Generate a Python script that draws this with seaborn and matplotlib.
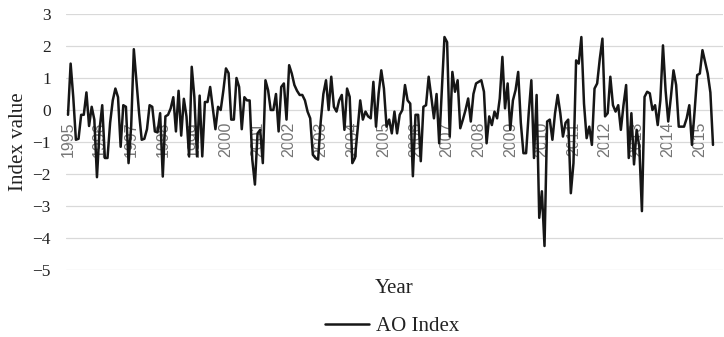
import numpy as np
import pandas as pd
import matplotlib
matplotlib.use("Agg")
import matplotlib.pyplot as plt
import seaborn as sns

# ---- data (monthly AO index, Jan 1995 - Jun 2015) ----
ao_1995 = [-0.15, 1.45, 0.4, -0.93, -0.9, -0.15, -0.15, 0.55, -0.5, 0.1, -0.3, -2.1]
ao_1996 = [-0.6, 0.15, -1.5, -1.5, -0.4, 0.3, 0.67, 0.4, -1.15, 0.15, 0.1, -1.66]
ao_1997 = [-0.5, 1.9, 0.9, -0.1, -0.93, -0.9, -0.6, 0.15, 0.1, -0.67, -0.7, -0.1]
ao_1998 = [-2.08, -0.2, -0.15, 0.05, 0.4, -0.67, 0.6, -0.8, 0.35, -0.2, -1.45, 1.35]
ao_1999 = [0.4, -1.45, 0.45, -1.45, 0.25, 0.25, 0.72, 0.05, -0.6, 0.1, 0.0, 0.6]
ao_2000 = [1.3, 1.15, -0.3, -0.3, 1.0, 0.72, -0.6, 0.4, 0.3, 0.3, -1.55, -2.33]
ao_2001 = [-0.73, -0.62, -1.66, 0.93, 0.62, 0.0, 0.0, 0.5, -0.67, 0.72, 0.83, -0.3]
ao_2002 = [1.4, 1.14, 0.78, 0.6, 0.47, 0.47, 0.3, -0.05, -0.26, -1.4, -1.5, -1.55]
ao_2003 = [-0.36, 0.5, 0.93, 0.0, 1.04, 0.1, -0.05, 0.3, 0.47, -0.62, 0.67, 0.41]
ao_2004 = [-1.66, -1.5, -0.62, 0.3, -0.3, -0.05, -0.2, -0.26, 0.88, -0.52, 0.52, 1.24]
ao_2005 = [0.67, -0.52, -0.3, -0.73, -0.05, -0.73, -0.15, 0.0, 0.78, 0.3, 0.2, -2.07]
ao_2006 = [-0.15, -0.15, -1.6, 0.1, 0.15, 1.04, 0.41, -0.26, 0.5, -1.04, 0.62, 2.28]
ao_2007 = [2.12, -0.83, 1.19, 0.57, 0.93, -0.57, -0.3, 0.0, 0.36, -0.36, 0.5, 0.83]
ao_2008 = [0.88, 0.93, 0.57, -1.04, -0.2, -0.47, -0.05, -0.26, 0.36, 1.66, 0.05, 0.83]
ao_2009 = [-0.62, 0.3, 0.62, 1.19, -0.4, -1.35, -1.35, -0.1, 0.93, -1.5, 0.47, -3.37]
ao_2010 = [-2.54, -4.25, -0.36, -0.3, -0.93, -0.1, 0.47, -0.1, -0.83, -0.4, -0.3, -2.6]
ao_2011 = [-1.66, 1.55, 1.45, 2.28, 0.2, -0.88, -0.52, -1.09, 0.67, 0.83, 1.6, 2.23]
ao_2012 = [-0.2, -0.1, 1.04, 0.15, -0.05, 0.15, -0.62, 0.15, 0.78, -1.5, -0.1, -1.7]
ao_2013 = [-0.62, -1.14, -3.16, 0.41, 0.57, 0.52, 0.0, 0.15, -0.47, 0.3, 2.02, 0.6]
ao_2014 = [-0.36, 0.4, 1.24, 0.78, -0.52, -0.52, -0.52, -0.26, 0.15, -1.09, -0.05, 1.09]
ao_2015 = [1.14, 1.87, 1.5, 1.14, 0.55, -1.09]

years = list(range(1995, 2016))
year_labels = [str(y) for y in years]
y_ticks = [3, 2, 1, 0, -1, -2, -3, -4, -5]

ao_values = (ao_1995 + ao_1996 + ao_1997 + ao_1998 + ao_1999 + ao_2000 + ao_2001
             + ao_2002 + ao_2003 + ao_2004 + ao_2005 + ao_2006 + ao_2007 + ao_2008
             + ao_2009 + ao_2010 + ao_2011 + ao_2012 + ao_2013 + ao_2014 + ao_2015)

df = pd.DataFrame({"month": np.arange(len(ao_values)), "AO": ao_values})

# ---- figure ----
sns.set_theme(style="white")
plt.rcParams["font.family"] = ["Liberation Serif", "DejaVu Serif"]

W, H = 724, 337
fig = plt.figure(figsize=(W / 100, H / 100), dpi=100)
ax = fig.add_axes([66 / W, 1 - 270 / H, 657 / W, 256 / H])

sns.lineplot(data=df, x="month", y="AO", ax=ax, color="#161616", linewidth=1.8,
             label="AO Index")

ax.set_ylim(-5, 3)
ax.set_xlim(-0.76, 248.8)
ax.set_yticks(y_ticks)
ax.grid(axis="y", color="#d9d9d9", linewidth=0.9)
ax.grid(axis="x", visible=False)
ax.set_axisbelow(True)
for s in ["top", "right", "left"]:
    ax.spines[s].set_visible(False)
ax.spines["bottom"].set_position(("data", 0))
ax.spines["bottom"].set_color("none")

ax.set_xticks(np.arange(0, 12 * len(years), 12))
ax.set_xticklabels(year_labels, rotation=90, fontsize=11.5, color="#757575",
                   family=["Liberation Sans", "DejaVu Sans"])
ax.tick_params(axis="x", length=0, pad=8.5)
ax.tick_params(axis="y", length=0, pad=11, labelsize=12.5, labelcolor="#222222")

ax.set_ylabel("Index value", fontsize=15, color="#222222", va="center")
ax.yaxis.set_label_coords(-0.073, 0.5)
ax.set_xlabel("Year", fontsize=15, color="#222222")
ax.xaxis.set_label_coords(0.5, -0.035)

ax.legend(loc="center", bbox_to_anchor=(392 / W, 1 - 326 / H),
          bbox_transform=fig.transFigure, frameon=False, fontsize=15,
          handlelength=2.1, handletextpad=0.35, borderpad=0,
          labelcolor="#222222")

fig.savefig("out.png", dpi=100)
